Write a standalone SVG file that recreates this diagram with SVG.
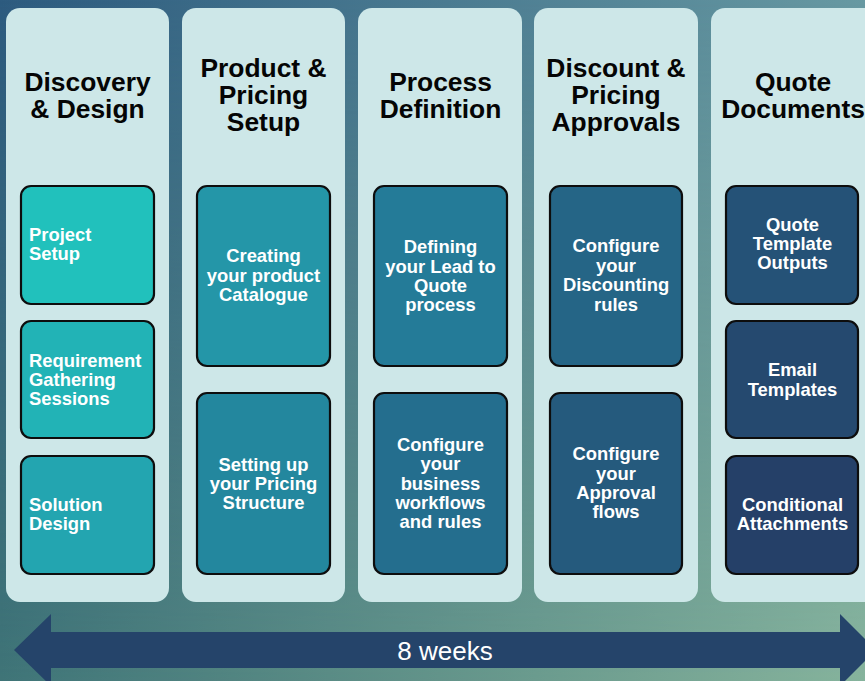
<svg xmlns="http://www.w3.org/2000/svg" width="865" height="681" viewBox="0 0 865 681">
  <defs>
    <linearGradient id="bgTop" x1="0" y1="0" x2="1" y2="0">
      <stop offset="0" stop-color="#2d5b7f"/>
      <stop offset="1" stop-color="#6799a2"/>
    </linearGradient>
    <linearGradient id="bgBottom" x1="0" y1="0" x2="1" y2="0">
      <stop offset="0" stop-color="#3f7477"/>
      <stop offset="1" stop-color="#86b39c"/>
    </linearGradient>
    <linearGradient id="fadeDown" x1="0" y1="0" x2="0" y2="1">
      <stop offset="0" stop-color="#fff" stop-opacity="0"/>
      <stop offset="1" stop-color="#fff" stop-opacity="1"/>
    </linearGradient>
    <mask id="bottomMask">
      <rect x="0" y="0" width="865" height="681" fill="url(#fadeDown)"/>
    </mask>
    <style>
      .panel { fill: #cde7e8; }
      .box { stroke: #0d0d0d; stroke-width: 2.2; }
      .title { font-family: "Liberation Sans", Arial, sans-serif; font-weight: bold; font-size: 26.4px; fill: #050505; text-anchor: middle; }
      .label { font-family: "Liberation Sans", Arial, sans-serif; font-weight: bold; font-size: 18.4px; fill: #ffffff; text-anchor: middle; }
      .label.left { text-anchor: start; }
      .span { font-family: "Liberation Sans", Arial, sans-serif; font-size: 26px; fill: #ffffff; text-anchor: middle; }
    </style>
  </defs>

  <!-- backdrop -->
  <rect x="0" y="0" width="865" height="681" fill="url(#bgTop)"/>
  <rect x="0" y="0" width="865" height="681" fill="url(#bgBottom)" mask="url(#bottomMask)"/>

  <!-- phase columns -->
  <g id="col-discovery">
    <rect class="panel" x="6" y="8" width="163" height="594" rx="14"/>
    <text class="title"><tspan x="87.5" y="91">Discovery</tspan><tspan x="87.5" y="118">&amp; Design</tspan></text>
  </g>
  <g id="col-product">
    <rect class="panel" x="182" y="8" width="163" height="594" rx="14"/>
    <text class="title"><tspan x="263.5" y="77">Product &amp;</tspan><tspan x="263.5" y="104">Pricing</tspan><tspan x="263.5" y="131">Setup</tspan></text>
  </g>
  <g id="col-process">
    <rect class="panel" x="358" y="8" width="164" height="594" rx="14"/>
    <text class="title"><tspan x="440.5" y="91">Process</tspan><tspan x="440.5" y="118">Definition</tspan></text>
  </g>
  <g id="col-discount">
    <rect class="panel" x="534" y="8" width="164" height="594" rx="14"/>
    <text class="title"><tspan x="616" y="77">Discount &amp;</tspan><tspan x="616" y="104">Pricing</tspan><tspan x="616" y="131">Approvals</tspan></text>
  </g>
  <g id="col-quote">
    <rect class="panel" x="711" y="8" width="180" height="594" rx="14"/>
    <text class="title"><tspan x="793" y="91">Quote</tspan><tspan x="793" y="118">Documents</tspan></text>
  </g>

  <!-- task boxes -->
  <g id="task-project-setup">
    <rect class="box" x="21" y="186" width="133" height="118" rx="10" fill="#21c1bc"/>
    <text class="label left"><tspan x="29" y="241">Project</tspan><tspan x="29" y="260">Setup</tspan></text>
  </g>
  <g id="task-requirements">
    <rect class="box" x="21" y="321" width="133" height="117" rx="10" fill="#22b3b6"/>
    <text class="label left"><tspan x="29" y="367">Requirement</tspan><tspan x="29" y="386">Gathering</tspan><tspan x="29" y="405">Sessions</tspan></text>
  </g>
  <g id="task-solution">
    <rect class="box" x="21" y="456" width="133" height="118" rx="10" fill="#23a5b0"/>
    <text class="label left"><tspan x="29" y="511">Solution</tspan><tspan x="29" y="530">Design</tspan></text>
  </g>
  <g id="task-catalogue">
    <rect class="box" x="197" y="186" width="133" height="180" rx="10" fill="#2496a8"/>
    <text class="label"><tspan x="263.5" y="262">Creating</tspan><tspan x="263.5" y="281.5">your product</tspan><tspan x="263.5" y="300.5">Catalogue</tspan></text>
  </g>
  <g id="task-pricing-structure">
    <rect class="box" x="197" y="393" width="133" height="181" rx="10" fill="#23879e"/>
    <text class="label"><tspan x="263.5" y="471">Setting up</tspan><tspan x="263.5" y="490">your Pricing</tspan><tspan x="263.5" y="509">Structure</tspan></text>
  </g>
  <g id="task-lead-to-quote">
    <rect class="box" x="374" y="186" width="133" height="180" rx="10" fill="#247b98"/>
    <text class="label"><tspan x="440.5" y="253">Defining</tspan><tspan x="440.5" y="272.5">your Lead to</tspan><tspan x="440.5" y="292">Quote</tspan><tspan x="440.5" y="311">process</tspan></text>
  </g>
  <g id="task-workflows">
    <rect class="box" x="374" y="393" width="133" height="181" rx="10" fill="#246e8e"/>
    <text class="label"><tspan x="440.5" y="451">Configure</tspan><tspan x="440.5" y="470">your</tspan><tspan x="440.5" y="489.5">business</tspan><tspan x="440.5" y="509">workflows</tspan><tspan x="440.5" y="528">and rules</tspan></text>
  </g>
  <g id="task-discounting">
    <rect class="box" x="550" y="186" width="132" height="180" rx="10" fill="#256586"/>
    <text class="label"><tspan x="616" y="252">Configure</tspan><tspan x="616" y="272">your</tspan><tspan x="616" y="291">Discounting</tspan><tspan x="616" y="311">rules</tspan></text>
  </g>
  <g id="task-approvals">
    <rect class="box" x="550" y="393" width="132" height="181" rx="10" fill="#255a7d"/>
    <text class="label"><tspan x="616" y="460">Configure</tspan><tspan x="616" y="479.5">your</tspan><tspan x="616" y="499">Approval</tspan><tspan x="616" y="518">flows</tspan></text>
  </g>
  <g id="task-quote-templates">
    <rect class="box" x="726" y="186" width="132" height="118" rx="10" fill="#255277"/>
    <text class="label"><tspan x="792.5" y="231">Quote</tspan><tspan x="792.5" y="250">Template</tspan><tspan x="792.5" y="269">Outputs</tspan></text>
  </g>
  <g id="task-email-templates">
    <rect class="box" x="726" y="321" width="132" height="117" rx="10" fill="#25496f"/>
    <text class="label"><tspan x="792.5" y="376">Email</tspan><tspan x="792.5" y="396">Templates</tspan></text>
  </g>
  <g id="task-attachments">
    <rect class="box" x="726" y="456" width="132" height="118" rx="10" fill="#254068"/>
    <text class="label"><tspan x="792.5" y="511">Conditional</tspan><tspan x="792.5" y="530">Attachments</tspan></text>
  </g>

  <!-- timeline arrow -->
  <g id="connectors">
    <polygon points="14,650 51,614 51,632 840,632 840,614 876,650 840,686 840,668 51,668 51,686" fill="#25446a"/>
    <text class="span" x="445" y="660">8 weeks</text>
  </g>
</svg>
